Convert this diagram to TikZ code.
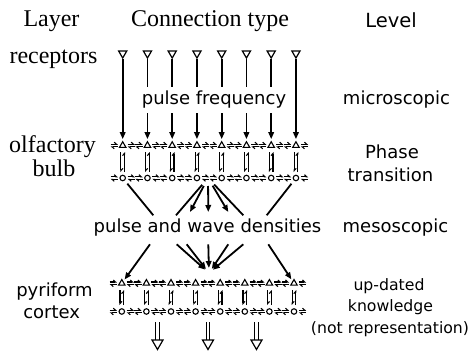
\documentclass[tikz,border=0pt]{standalone}
\usepackage{fontspec}
\setmainfont{Liberation Serif}
\newfontfamily\labelsans{DejaVu Sans}
\usetikzlibrary{arrows.meta,shapes.geometric}

\tikzset{
  serif/.style={font=\fontsize{24}{26}\selectfont, anchor=base, inner sep=0pt},
  sans/.style={font=\labelsans\fontsize{18}{20}\selectfont, anchor=base, inner sep=0pt},
  small/.style={font=\labelsans\fontsize{15.7}{18}\selectfont, anchor=base, inner sep=0pt},
  tri/.style={draw, regular polygon, regular polygon sides=3, minimum size=7.5pt,
    inner sep=0pt, line width=1.1pt},
  cell/.style={draw, circle, minimum size=5.5pt, inner sep=0pt, line width=1.1pt},
  receptor/.style={draw, regular polygon, regular polygon sides=3,
    shape border rotate=180, minimum size=9.5pt, inner sep=0pt, line width=1.2pt},
  link/.style={line width=1.8pt},
  arr/.style={link, -{Triangle[length=7pt,width=5.5pt]}},
  harp/.style={line width=1.1pt, -{Straight Barb[harpoon,length=2.2pt,width=4pt]}},
  % pair of opposed horizontal harpoons
  hpair/.pic={
    \draw[harp] (-3.6,-1.3) -- (3.6,-1.3);
    \draw[harp] (3.6,1.3) -- (-3.6,1.3);
  },
  % pair of opposed vertical harpoons, half length #1
  vpair/.pic={
    \draw[harp] (-1.8,-#1) -- (-1.8,#1);
    \draw[harp] (1.8,#1) -- (1.8,-#1);
  },
  % hollow output arrow
  outarrow/.pic={
    \draw[line width=1.2pt] (-1.8,-9) -- (-1.8,9) (1.8,-9) -- (1.8,9);
    \draw[line width=1.2pt, fill=white] (-5.5,9) -- (5.5,9) -- (0,18.5) -- cycle;
  }
}

\begin{document}
\begin{tikzpicture}[x=1pt, y=-1pt]
\useasboundingbox (0,0) rectangle (469,353);

% column headings
\node[serif] (hlayer) at (51.5,27) {Layer};
\node[serif] (hconn) at (210,27) {Connection type};
\node[sans, font=\labelsans\fontsize{19.5}{22}\selectfont] (hlevel) at (391,28) {Level};

% layer names
\node[serif] (lrec) at (53.5,64) {receptors};
\node[serif] (lolf) at (52.5,153) {olfactory};
\node[serif] (lbulb) at (54,176.5) {bulb};
\node[sans] (lpyr) at (54.5,296.5) {pyriform};
\node[sans] (lcor) at (51.7,318.3) {cortex};

% level names
\node[sans] (vmicro) at (396.5,105) {microscopic};
\node[sans] (vphase) at (392,158) {Phase};
\node[sans] (vtrans) at (390.5,181.5) {transition};
\node[sans] (vmeso) at (395.5,232) {mesoscopic};
\node[small] (vup) at (389,290) {up-dated};
\node[small] (vknow) at (390.5,311.5) {knowledge};
\node[small] (vnot) at (390,333.3) {(not representation)};

% receptors and olfactory bulb
\foreach \i in {1,...,8} {
  \pgfmathsetmacro{\xb}{122.7+24.75*(\i-1)}
  \node[receptor] (r\i) at (\xb,53.3) {};
  \node[tri] (bt\i) at (\xb,145.5) {};
  \node[cell] (bc\i) at (\xb,178) {};
  \pic at (\xb-8.5,145.5) {hpair};
  \pic at (\xb+8.5,145.5) {hpair};
  \pic at (\xb-8.5,178) {hpair};
  \pic at (\xb+8.5,178) {hpair};
  \pic at (\xb,162) {vpair=10};
}

% pyriform cortex
\foreach \i in {1,...,8} {
  \pgfmathsetmacro{\xc}{121.8+24.6*(\i-1)}
  \node[tri] (ct\i) at (\xc,283.3) {};
  \node[cell] (cc\i) at (\xc,311.5) {};
  \pic at (\xc-8.5,283.3) {hpair};
  \pic at (\xc+8.5,283.3) {hpair};
  \pic at (\xc-8.5,311.5) {hpair};
  \pic at (\xc+8.5,311.5) {hpair};
  \pic at (\xc,297.5) {vpair=7.5};
}

% receptor axons into the bulb
\foreach \i in {1,...,8}
  \draw[arr, shorten >=1.5pt] (r\i) -- (bt\i);
\node[sans, fill=white, inner xsep=1pt, inner ysep=4.5pt] (pfreq) at (214,105) {pulse frequency};

% bulb output onto the densities
\node[sans] (dens) at (207.5,232) {pulse and wave densities};
\coordinate (hub) at (208,178);
\coordinate (u1) at (153.3,215.3);
\coordinate (u2) at (176,215.3);
\coordinate (u3) at (190,212);
\coordinate (u4) at (208.3,212);
\coordinate (u5) at (228.3,212);
\coordinate (u6) at (243.3,215.3);
\coordinate (u7) at (266.7,215.3);
\draw[link, shorten <=4pt] (bc1) -- (u1);
\draw[link, shorten <=9pt] (hub) -- (u2);
\draw[arr, shorten <=9pt] (hub) -- (u3);
\draw[arr, shorten <=8pt] (hub) -- (u4);
\draw[arr, shorten <=9pt] (hub) -- (u5);
\draw[link, shorten <=9pt] (hub) -- (u6);
\draw[link, shorten <=4pt] (bc8) -- (u7);

% densities onto the cortex
\coordinate (s1) at (150,244.3);
\coordinate (s2) at (176.7,244.3);
\coordinate (s3) at (186.7,244.3);
\coordinate (s4) at (208.3,244.3);
\coordinate (s5) at (228.3,244.3);
\coordinate (s6) at (243.3,244.3);
\coordinate (s7) at (268.3,244.3);
\coordinate (sink) at (209,273);
\draw[arr, shorten >=2pt] (s1) -- (ct1);
\draw[arr, shorten >=5pt] (s2) -- (sink);
\draw[arr, shorten >=5pt] (s3) -- (sink);
\draw[arr, shorten >=5pt] (s4) -- (sink);
\draw[arr, shorten >=5pt] (s5) -- (sink);
\draw[arr, shorten >=5pt] (s6) -- (sink);
\draw[arr, shorten >=2pt] (s7) -- (ct8);

% cortical output
\pic at (157.5,331) {outarrow};
\pic at (208,331) {outarrow};
\pic at (256.5,331) {outarrow};
\end{tikzpicture}
\end{document}
